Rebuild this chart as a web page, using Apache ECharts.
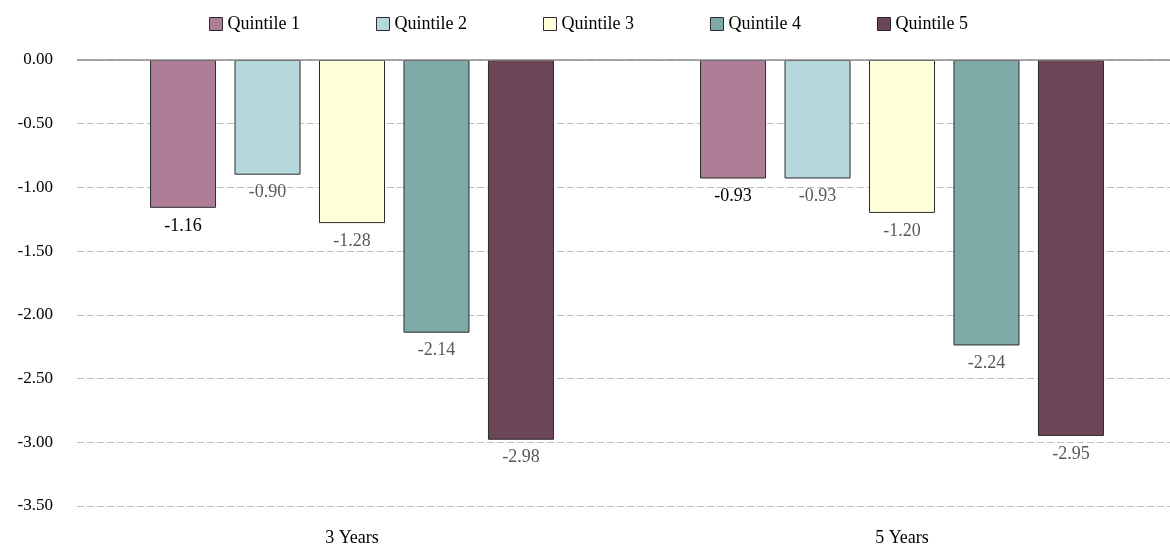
<!DOCTYPE html>
<html>
<head>
<meta charset="utf-8">
<script src="https://cdn.jsdelivr.net/npm/echarts@6/dist/echarts.min.js"></script>
<style>
  html, body { margin: 0; padding: 0; background: #fff; }
  #chart { width: 1170px; height: 548px; }
</style>
</head>
<body>
<div id="chart"></div>
<script>
// Horizons on the category axis
const categories = ['3 Years', '5 Years'];
// One series per quintile, values per horizon
const seriesNames = ['Quintile 1', 'Quintile 2', 'Quintile 3', 'Quintile 4', 'Quintile 5'];
const quintile1 = [-1.16, -0.93];
const quintile2 = [-0.90, -0.93];
const quintile3 = [-1.28, -1.20];
const quintile4 = [-2.14, -2.24];
const quintile5 = [-2.98, -2.95];
const yTicks = { min: -3.5, max: 0, step: 0.5 };

const seriesValues = [quintile1, quintile2, quintile3, quintile4, quintile5];
const fills = ['#AD7E96', '#B5D8DD', '#FFFFD9', '#7EAAA8', '#6B4558'];
const labelColors = ['#000000', '#595959', '#595959', '#595959', '#595959'];
const FONT = '"Liberation Serif", "DejaVu Serif", serif';

const chart = echarts.init(document.getElementById('chart'), null, { renderer: 'canvas' });

const series = seriesNames.map((name, i) => {
  const s = {
    name: name,
    type: 'bar',
    data: seriesValues[i],
    barWidth: 66,
    barGap: '28%',
    itemStyle: { color: fills[i], borderColor: '#2b2b2b', borderWidth: 1 },
    label: {
      show: true,
      position: 'bottom',
      distance: 9,
      color: labelColors[i],
      fontFamily: FONT,
      fontSize: 18,
      formatter: p => p.value.toFixed(2)
    },
    emphasis: { disabled: true }
  };
  if (i === 0) {
    // solid baseline at zero
    s.markLine = {
      silent: true,
      symbol: 'none',
      label: { show: false },
      lineStyle: { color: '#8C8C8C', type: 'solid', width: 1.5 },
      data: [{ yAxis: 0 }]
    };
  }
  return s;
});

chart.setOption({
  animation: false,
  backgroundColor: '#ffffff',
  textStyle: { fontFamily: FONT },
  legend: {
    top: 10,
    left: 204,
    itemWidth: 13,
    itemHeight: 13,
    itemGap: 76,
    icon: 'rect',
    textStyle: { fontFamily: FONT, fontSize: 18, color: '#000' },
    itemStyle: { borderColor: '#2b2b2b', borderWidth: 1 },
    data: seriesNames
  },
  grid: {
    left: 77, width: 1100, top: 60, bottom: 42,
    containLabel: false, outerBoundsMode: 'none'
  },
  xAxis: {
    type: 'category',
    data: categories,
    axisLine: { show: false, onZero: false },
    axisTick: { show: false },
    axisLabel: { fontFamily: FONT, fontSize: 18, color: '#000', margin: 23 },
    splitLine: { show: false }
  },
  yAxis: {
    type: 'value',
    min: yTicks.min,
    max: yTicks.max,
    interval: yTicks.step,
    axisLine: { show: false },
    axisTick: { show: false },
    axisLabel: {
      fontFamily: FONT, fontSize: 17, color: '#000', margin: 24,
      formatter: v => v.toFixed(2)
    },
    splitLine: { show: true, lineStyle: { color: '#BFBFBF', type: [7, 3], width: 1 } }
  },
  series: series
});
</script>
</body>
</html>
